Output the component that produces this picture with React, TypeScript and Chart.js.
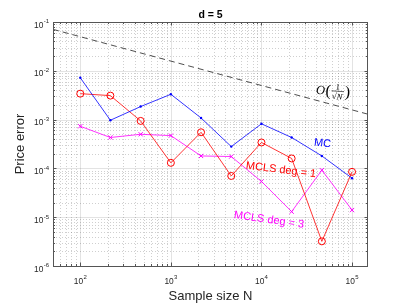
import React, { useEffect, useRef } from 'react';
import { Chart, registerables } from 'chart.js';
Chart.register(...registerables);

const sampleSizes = [100, 215, 464, 1000, 2154, 4642, 10000, 21544, 46416, 100000];
const mcErr = [7.2e-3, 9.7e-4, 1.85e-3, 3.3e-3, 1.08e-3, 2.8e-4, 8.2e-4, 4.3e-4, 1.8e-4, 6.3e-5];
const mcls1Err = [3.4e-3, 3.1e-3, 9.4e-4, 1.3e-4, 5.5e-4, 7.0e-5, 3.4e-4, 1.6e-4, 3.2e-6, 8.5e-5];
const mcls3Err = [7.3e-4, 4.3e-4, 5.0e-4, 4.7e-4, 1.8e-4, 1.75e-4, 5.4e-5, 1.3e-5, 9.2e-5, 1.4e-5];
const refN = [50, 150000];
const refErr = [0.0707, 0.00129];
const xDecades = [2, 3, 4, 5];
const yDecades = [-6, -5, -4, -3, -2, -1];
const xMin = 50, xMax = 150000, yMin = 1e-6, yMax = 0.1;

const FONT = '"Liberation Sans", Arial, Helvetica, sans-serif';
const SERIF = '"Liberation Serif", "DejaVu Serif", serif';
const AX = '#262626';

function pts(xs: number[], ys: number[]) {
  return xs.map((x, i) => ({ x, y: ys[i] }));
}

function minorValues(lo: number, hi: number) {
  const out: { v: number; major: boolean }[] = [];
  for (let e = Math.floor(Math.log10(lo)); e <= Math.ceil(Math.log10(hi)); e++) {
    for (let m = 1; m <= 9; m++) {
      const v = m * Math.pow(10, e);
      if (v >= lo * 0.9999 && v <= hi * 1.0001) out.push({ v, major: m === 1 });
    }
  }
  return out;
}

function drawPow(ctx: CanvasRenderingContext2D, exp: number, x: number, baseY: number, align: 'right' | 'center') {
  ctx.save();
  ctx.fillStyle = AX;
  ctx.textBaseline = 'alphabetic';
  ctx.textAlign = 'left';
  const bigF = `8.4px ${FONT}`;
  const supF = `6px ${FONT}`;
  ctx.font = bigF;
  const w1 = ctx.measureText('10').width;
  ctx.font = supF;
  const s = String(exp);
  const w2 = ctx.measureText(s).width;
  const total = w1 + w2 + 0.3;
  const x0 = align === 'right' ? x - total : x - total / 2;
  ctx.font = bigF;
  ctx.fillText('10', x0, baseY);
  ctx.font = supF;
  ctx.fillText(s, x0 + w1 + 0.3, baseY - 4.2);
  ctx.restore();
}

const axesPlugin = {
  id: 'matlabAxes',
  beforeDatasetsDraw(chart: any) {
    const { ctx, chartArea } = chart;
    const { left, right, top, bottom } = chartArea;
    const xs = chart.scales.x;
    const ys = chart.scales.y;
    ctx.save();
    ctx.lineWidth = 1;
    ctx.strokeStyle = 'rgba(38,38,38,0.22)';
    ctx.setLineDash([1, 2]);
    for (const t of minorValues(xMin, xMax)) {
      if (t.major) continue;
      const px = Math.round(xs.getPixelForValue(t.v)) + 0.5;
      ctx.beginPath(); ctx.moveTo(px, top); ctx.lineTo(px, bottom); ctx.stroke();
    }
    for (const t of minorValues(yMin, yMax)) {
      if (t.major) continue;
      const py = Math.round(ys.getPixelForValue(t.v)) + 0.5;
      ctx.beginPath(); ctx.moveTo(left, py); ctx.lineTo(right, py); ctx.stroke();
    }
    ctx.setLineDash([]);
    ctx.strokeStyle = 'rgba(38,38,38,0.13)';
    for (const e of xDecades) {
      const px = Math.round(xs.getPixelForValue(Math.pow(10, e))) + 0.5;
      ctx.beginPath(); ctx.moveTo(px, top); ctx.lineTo(px, bottom); ctx.stroke();
    }
    for (const e of yDecades) {
      const py = Math.round(ys.getPixelForValue(Math.pow(10, e))) + 0.5;
      ctx.beginPath(); ctx.moveTo(left, py); ctx.lineTo(right, py); ctx.stroke();
    }
    ctx.restore();
  },
  afterDatasetsDraw(chart: any) {
    const { ctx, chartArea } = chart;
    const { left, right, top, bottom } = chartArea;
    const xs = chart.scales.x;
    const ys = chart.scales.y;
    ctx.save();
    ctx.strokeStyle = '#555555';
    ctx.lineWidth = 1;
    ctx.strokeRect(Math.round(left) + 0.5, Math.round(top) + 0.5, Math.round(right - left) - 1, Math.round(bottom - top));
    for (const t of minorValues(xMin, xMax)) {
      const px = Math.round(xs.getPixelForValue(t.v)) + 0.5;
      const len = t.major ? 3.5 : 2;
      ctx.beginPath();
      ctx.moveTo(px, bottom); ctx.lineTo(px, bottom - len);
      ctx.moveTo(px, top); ctx.lineTo(px, top + len);
      ctx.stroke();
    }
    for (const t of minorValues(yMin, yMax)) {
      const py = Math.round(ys.getPixelForValue(t.v)) + 0.5;
      const len = t.major ? 3.5 : 2;
      ctx.beginPath();
      ctx.moveTo(left, py); ctx.lineTo(left + len, py);
      ctx.moveTo(right, py); ctx.lineTo(right - len, py);
      ctx.stroke();
    }
    for (const e of yDecades) {
      const py = ys.getPixelForValue(Math.pow(10, e));
      drawPow(ctx, e, left - 4, py + 5.5, 'right');
    }
    for (const e of xDecades) {
      const px = xs.getPixelForValue(Math.pow(10, e));
      drawPow(ctx, e, px, bottom + 17.5, 'center');
    }
    ctx.fillStyle = '#000';
    ctx.font = `bold 10.5px ${FONT}`;
    ctx.textAlign = 'center';
    ctx.textBaseline = 'middle';
    ctx.fillText('d = 5', (left + right) / 2, 15);
    ctx.fillStyle = AX;
    ctx.font = `13px ${FONT}`;
    ctx.fillText('Sample size N', (left + right) / 2, 296);
    ctx.save();
    ctx.translate(20, (top + bottom) / 2);
    ctx.rotate(-Math.PI / 2);
    ctx.fillText('Price error', 0, 0);
    ctx.restore();
    const rotText = (txt: string, cx: number, cy: number, deg: number, color: string) => {
      ctx.save();
      ctx.translate(cx, cy);
      ctx.rotate((deg * Math.PI) / 180);
      ctx.fillStyle = color;
      ctx.font = `11px ${FONT}`;
      ctx.textAlign = 'center';
      ctx.textBaseline = 'middle';
      ctx.fillText(txt, 0, 0);
      ctx.restore();
    };
    rotText('MC', 322.5, 143.5, 6, '#0000ff');
    rotText('MCLS deg = 1', 281, 170, 7, '#ff0000');
    rotText('MCLS deg = 3', 269, 220, 8, '#ff00ff');
    ctx.save();
    ctx.translate(334, 91);
    ctx.rotate((4 * Math.PI) / 180);
    ctx.fillStyle = '#000';
    ctx.textBaseline = 'alphabetic';
    ctx.textAlign = 'left';
    ctx.font = `italic 12.5px ${SERIF}`;
    ctx.fillText('O', -18, 4);
    ctx.font = `16px ${SERIF}`;
    ctx.fillText('(', -8.5, 5);
    ctx.textAlign = 'center';
    ctx.font = `8.5px ${SERIF}`;
    ctx.fillText('1', 3.5, -1.5);
    ctx.font = `italic 8.5px ${SERIF}`;
    ctx.fillText('\u221AN', 3.5, 8);
    ctx.strokeStyle = '#000';
    ctx.lineWidth = 0.6;
    ctx.beginPath(); ctx.moveTo(-2.5, 0); ctx.lineTo(10, 0); ctx.stroke();
    ctx.textAlign = 'left';
    ctx.font = `16px ${SERIF}`;
    ctx.fillText(')', 11, 5);
    ctx.restore();
    ctx.restore();
  },
};

export default function App() {
  const ref = useRef<HTMLCanvasElement | null>(null);
  useEffect(() => {
    if (!ref.current) return;
    const chart = new Chart(ref.current, {
      type: 'line',
      data: {
        datasets: [
          {
            data: pts(refN, refErr),
            borderColor: '#222222',
            borderWidth: 0.8,
            borderDash: [6, 4],
            pointRadius: 0,
            fill: false,
          },
          {
            data: pts(sampleSizes, mcErr),
            borderColor: '#0000ff',
            backgroundColor: '#0000ff',
            borderWidth: 0.8,
            pointStyle: 'circle',
            pointRadius: 1.2,
            pointBorderWidth: 0,
            fill: false,
          },
          {
            data: pts(sampleSizes, mcls1Err),
            borderColor: '#ff0000',
            backgroundColor: 'rgba(0,0,0,0)',
            borderWidth: 0.8,
            pointStyle: 'circle',
            pointRadius: 3.5,
            pointBorderWidth: 1,
            pointBorderColor: '#ff0000',
            fill: false,
          },
          {
            data: pts(sampleSizes, mcls3Err),
            borderColor: '#ff00ff',
            backgroundColor: '#ff00ff',
            borderWidth: 0.8,
            pointStyle: 'crossRot',
            pointRadius: 3,
            pointBorderWidth: 1,
            pointBorderColor: '#ff00ff',
            fill: false,
          },
        ],
      },
      options: {
        responsive: false,
        animation: false,
        layout: { padding: { left: 53, top: 22, right: 39, bottom: 39 } },
        plugins: {
          legend: { display: false },
          tooltip: { enabled: false },
          title: { display: false },
        },
        elements: { line: { tension: 0 } },
        scales: {
          x: { type: 'logarithmic', min: xMin, max: xMax, display: false },
          y: { type: 'logarithmic', min: yMin, max: yMax, display: false },
        },
      },
      plugins: [axesPlugin],
    } as any);
    return () => chart.destroy();
  }, []);
  return (
    <div style={{ position: 'fixed', left: 0, top: 0, width: 407, height: 305, background: '#fff' }}>
      <canvas ref={ref} width={407} height={305} />
    </div>
  );
}
